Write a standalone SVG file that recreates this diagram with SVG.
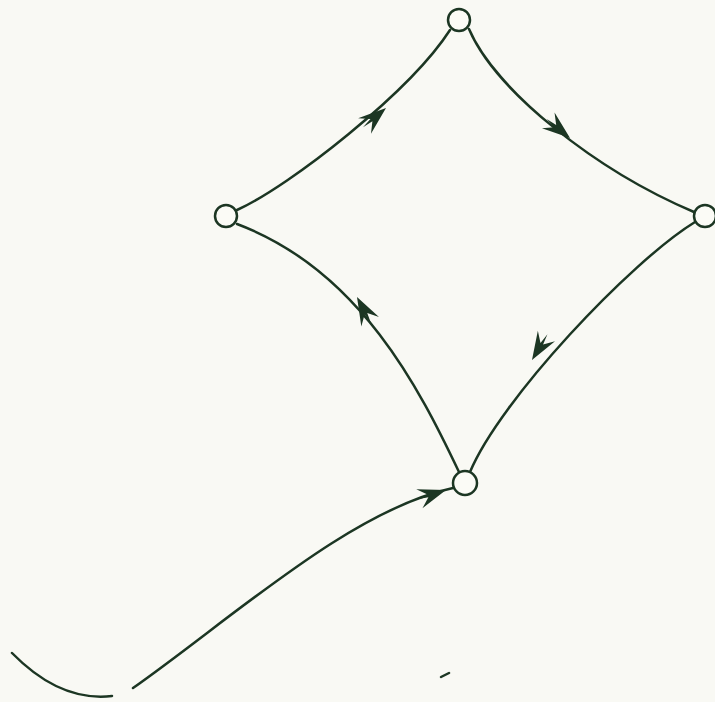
<svg xmlns="http://www.w3.org/2000/svg" width="715" height="702" viewBox="0 0 715 702">
<style>
.e{fill:none;stroke:#1c3623;stroke-width:2.5;stroke-linecap:round}
.n{fill:#fbfbf6;stroke:#1c3623;stroke-width:2.5}
.a{fill:#1c3623}
</style>
<defs>
<path id="ah" d="M0,0 L-28,-10 L-19,-1.5 L-30,0 L-19,1.5 L-28,10 Z"/>
<path id="ah2" d="M0,0 L-44,-7 L-38,-1.5 L-46,0 L-38,1.5 L-40,14 Z"/>
</defs>
<rect width="715" height="702" fill="#f9f9f4"/>
<g id="connectors">
<path class="e" d="M237,210 C290,186 410,92 450,30"/>
<path class="e" d="M469,29 C495,90 595,170 694,212"/>
<path class="e" d="M695,222 C630,262 500,400 470,472"/>
<path class="e" d="M459,472 C420,390 360,270 237,224"/>
<path class="e" d="M12,653 Q60,702 112,696"/>
<path class="e" d="M133,688 C230,620 350,510 453,488"/>
<path class="e" d="M441,677 L449,673"/>
<use href="#ah" class="a" transform="translate(386,108) rotate(-40)"/>
<use href="#ah" class="a" transform="translate(570,138) rotate(39)"/>
<use href="#ah" class="a" transform="translate(532,360) rotate(121)"/>
<use href="#ah" class="a" transform="translate(357,297) rotate(-118)"/>
<use href="#ah" class="a" transform="translate(446,490) rotate(-18)"/>
</g>
<g id="node-top"><circle class="n" cx="459" cy="20" r="11"/></g>
<g id="node-left"><circle class="n" cx="226" cy="216" r="11"/></g>
<g id="node-right"><circle class="n" cx="705" cy="216" r="11"/></g>
<g id="node-bottom"><circle class="n" cx="465" cy="483" r="12"/></g>
</svg>
